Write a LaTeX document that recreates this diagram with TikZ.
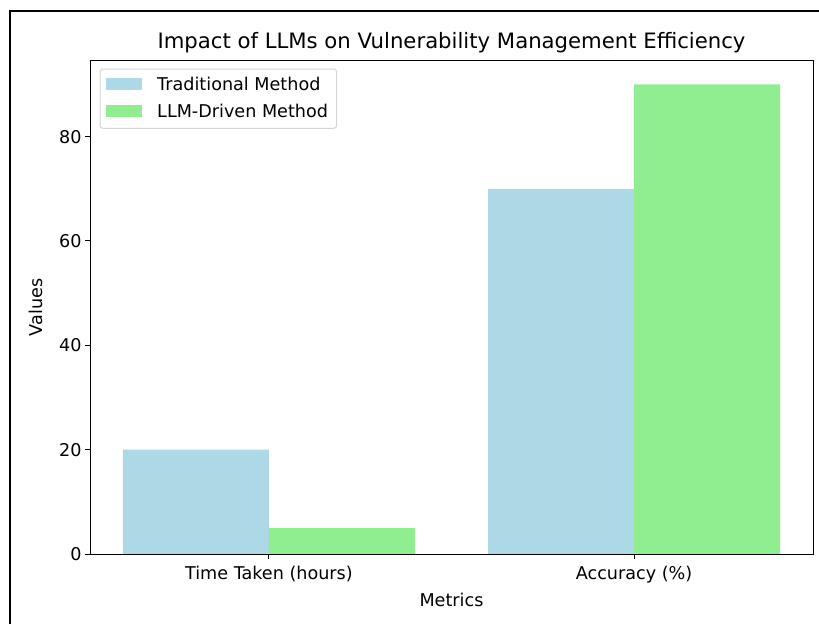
\documentclass[tikz,border=0pt]{standalone}
\usepackage{fontspec}
\setmainfont{DejaVu Sans}
\usepackage{pgfplots}
\pgfplotsset{compat=1.18}
\usetikzlibrary{positioning}
\definecolor{tradblue}{HTML}{ADD8E6}
\definecolor{llmgreen}{HTML}{90EE90}
\definecolor{legendgray}{HTML}{D5D5D5}
\newcommand{\bodyfont}{\fontsize{17.6}{20}\selectfont}
\newcommand{\titlefont}{\fontsize{21.2}{24}\selectfont}
\tikzset{
  legendframe/.style={draw=legendgray, line width=1pt, rounded corners=3pt, fill=white},
  legendtext/.style={anchor=west, inner sep=0pt, font=\bodyfont},
}
\pgfplotsset{
  every axis/.style={
    scale only axis,
    axis on top,
    axis line style={line width=1pt},
    tick style={line width=1pt, black},
    tick align=outside,
    major tick length=5pt,
    tick pos=left,
    tick label style={font=\bodyfont},
    yticklabel={\pgfmathprintnumber[assume math mode=true]{\tick}},
    label style={font=\bodyfont},
    title style={font=\titlefont},
  },
}

\begin{document}
\begin{tikzpicture}
  \useasboundingbox (0pt,0pt) rectangle (819pt,-624pt);
  % outer frame of the screenshot
  \draw[line width=1.6pt] (10pt,-624pt) -- (10pt,-11pt) -- (819pt,-11pt);
  \begin{axis}[
      name=chart,
      at={(90pt,-554pt)}, anchor=south west,
      width=723pt, height=493pt,
      xmin=-0.49, xmax=1.49, ymin=0, ymax=94.5,
      xtick={0,1}, xticklabels={Time Taken (hours), Accuracy (\%)},
      xticklabel style={yshift=-4pt},
      ytick={0,20,...,80},
      ybar, bar width=0.4,
      title={Impact of LLMs on Vulnerability Management Efficiency},
      title style={at={(0.5,1)}, anchor=base, yshift=6.5pt},
      xlabel={Metrics},
      xlabel style={at={(0.5,0)}, anchor=base, yshift=-52.5pt},
      ylabel={Values},
      % the label is already turned by 90 degrees, so yshift moves it left
      ylabel style={at={(0,0.5)}, anchor=base, yshift=47pt},
    ]
    \addplot[fill=tradblue, draw=none, bar shift=0pt] coordinates {(-0.2,20) (0.8,70)};
    \addplot[fill=llmgreen, draw=none, bar shift=0pt] coordinates {(0.2,5) (1.2,90)};
  \end{axis}
  % legend
  \draw[legendframe] (100pt,-69pt) rectangle (336.7pt,-128.3pt);
  \fill[tradblue] (105.7pt,-77.7pt) rectangle (141.7pt,-90pt);
  \node[legendtext] (tradlabel) at (157pt,-84pt) {Traditional Method};
  \fill[llmgreen] (105.7pt,-104.7pt) rectangle (141.7pt,-117pt);
  \node[legendtext] (llmlabel) at (157pt,-111pt) {LLM-Driven Method};
\end{tikzpicture}
\end{document}
